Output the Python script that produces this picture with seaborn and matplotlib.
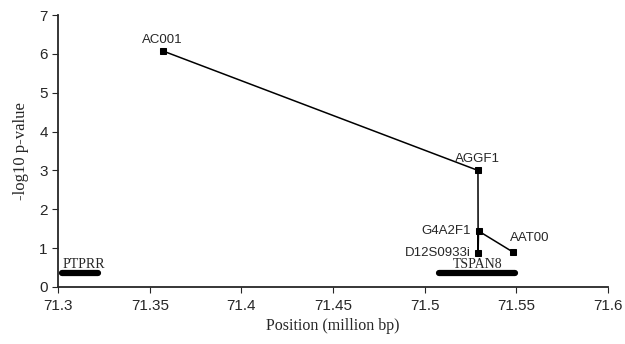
import numpy as np
import pandas as pd
import seaborn as sns
import matplotlib
matplotlib.use("Agg")
import matplotlib.pyplot as plt

# SNP markers: position (million bp) and -log10 p-value
snp_names = ["AC001", "AGGF1", "D12S0933i", "G4A2F1", "AAT00"]
snp_pos = [71.357, 71.5290, 71.5291, 71.5293, 71.548]
snp_logp = [6.08, 3.0, 0.87, 1.44, 0.9]

# genes drawn as thick bars near the axis
gene_names = ["PTPRR", "TSPAN8"]
gene_start = [71.302, 71.508]
gene_end = [71.322, 71.549]
gene_y = [0.35, 0.35]

df = pd.DataFrame({"pos": snp_pos, "logp": snp_logp, "name": snp_names})

sns.set_style("ticks")
plt.rcParams["font.family"] = ["Liberation Sans", "DejaVu Sans"]

fig = plt.figure(figsize=(6.25, 3.44), dpi=100)
ax = fig.add_axes([0.093, 0.166, 0.880, 0.790])

sns.lineplot(data=df, x="pos", y="logp", sort=True, color="black", lw=1.1,
             marker="s", markersize=4.5, markeredgecolor="black", ax=ax)

for s, e, y in zip(gene_start, gene_end, gene_y):
    ax.plot([s, e], [y, y], color="black", lw=4.5, solid_capstyle="round")

# gene labels (serif)
ax.text(71.3025, 0.42, gene_names[0], family="Liberation Serif", fontsize=10,
        ha="left", va="bottom")
ax.text(71.529, 0.42, gene_names[1], family="Liberation Serif", fontsize=10,
        ha="center", va="bottom")

# SNP labels
ax.text(snp_pos[0], snp_logp[0] + 0.12, snp_names[0], fontsize=9.5, ha="center", va="bottom")
ax.text(snp_pos[1], snp_logp[1] + 0.15, snp_names[1], fontsize=9.5, ha="center", va="bottom")
ax.text(snp_pos[2] - 0.004, snp_logp[2], snp_names[2], fontsize=9.5, ha="right", va="center")
ax.text(snp_pos[3] - 0.004, snp_logp[3], snp_names[3], fontsize=9.5, ha="right", va="center")
ax.text(snp_pos[4] - 0.0015, snp_logp[4] + 0.2, snp_names[4], fontsize=9.5, ha="left", va="bottom")

ax.set_xlim(71.3, 71.6)
ax.set_ylim(0, 7)
ax.set_xticks([71.3, 71.35, 71.4, 71.45, 71.5, 71.55, 71.6])
ax.set_xticklabels(["71.3", "71.35", "71.4", "71.45", "71.5", "71.55", "71.6"])
ax.set_yticks(range(0, 8))
ax.tick_params(axis="x", direction="out", length=4, labelsize=11, pad=5)
ax.tick_params(axis="y", direction="out", length=4, labelsize=11)
for sp in ["left", "bottom"]:
    ax.spines[sp].set_linewidth(1.3)
sns.despine(ax=ax)

ax.set_xlabel("Position (million bp)", family="Liberation Serif", fontsize=11.5, labelpad=3)
ax.set_ylabel("-log10 p-value", family="Liberation Serif", fontsize=12, labelpad=7)

fig.savefig("out.png", dpi=100)
